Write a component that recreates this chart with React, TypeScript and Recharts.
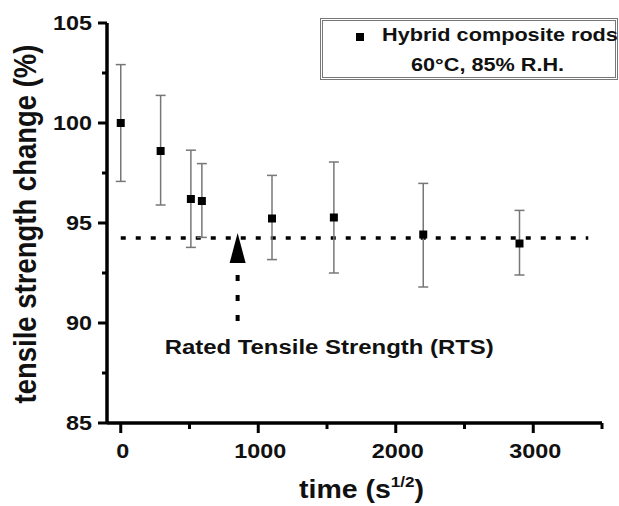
import {
  ScatterChart,
  Scatter,
  XAxis,
  YAxis,
  ZAxis,
  ErrorBar,
  ReferenceLine,
  ReferenceDot,
  Label,
} from "recharts";

// time in s^1/2, tensile strength retention in %
const times = [0, 290, 510, 590, 1100, 1550, 2200, 2900];
const strength = [100, 98.6, 96.2, 96.1, 95.22, 95.28, 94.42, 93.97];
const errLow = [2.92, 2.7, 2.42, 1.82, 2.05, 2.78, 2.62, 1.57];
const errHigh = [2.92, 2.78, 2.44, 1.87, 2.16, 2.77, 2.56, 1.66];

const xTicks = [0, 500, 1000, 1500, 2000, 2500, 3000, 3500];
const yTicks = [85, 87.5, 90, 92.5, 95, 97.5, 100, 102.5, 105];
const xMin = -100;
const xMax = 3500;
const yMin = 85;
const yMax = 105;

// rated tensile strength level and the arrow pointing at it
const rtsLevel = 94.25;
const rtsEnd = 3400;
const arrowTime = [850];
const arrowBase = [93];
const arrowTail = 90;
const rtsText = "Rated Tensile Strength (RTS)";
const rtsTextAt = { x: 1516, y: 88.83 };

const data = times.map((t, i) => ({
  t,
  v: strength[i],
  err: [errLow[i], errHigh[i]],
}));
const arrowData = arrowTime.map((t, i) => ({ t, v: arrowBase[i] }));

const FONT = "'Liberation Sans', Arial, sans-serif";
const SX = 1.14;

function Wide({ x, y, anchor = "start", size, rotate = false, children }: any) {
  return (
    <text
      transform={`translate(${x},${y}) scale(${SX},1)${rotate ? " rotate(-90)" : ""}`}
      textAnchor={anchor}
      fontSize={size}
      fontWeight="bold"
      fontFamily={FONT}
      fill="#111"
    >
      {children}
    </text>
  );
}

const XTick = ({ x, y, payload }: any) => {
  const major = payload.value % 1000 === 0;
  return (
    <g>
      {major ? (
        <Wide x={x + 2} y={y + 35} anchor="middle" size={20.5}>
          {payload.value}
        </Wide>
      ) : null}
      <line x1={x} x2={x} y1={y} y2={y + (major ? 10 : 6)} stroke="#000" strokeWidth={3} />
    </g>
  );
};

const YTick = ({ x, y, payload }: any) => {
  const major = payload.value % 5 === 0;
  return (
    <g>
      {major ? (
        <Wide x={x - 15} y={y + 7} anchor="end" size={20.5}>
          {payload.value}
        </Wide>
      ) : null}
      <line x1={x} x2={x - (major ? 9 : 5)} y1={y} y2={y} stroke="#000" strokeWidth={3} />
    </g>
  );
};

const Arrowhead = ({ cx, cy }: any) => (
  <polygon points={`${cx},${cy - 30} ${cx - 8},${cy} ${cx + 8},${cy}`} fill="#000" />
);

export default function App() {
  return (
    <div
      style={{
        position: "absolute",
        left: 0,
        top: 0,
        width: 619,
        height: 506,
        overflow: "hidden",
        background: "#fff",
      }}
    >
      <ScatterChart width={619} height={506} margin={{ top: 23, right: 17, bottom: 0, left: 0 }}>
        <XAxis
          type="number"
          dataKey="t"
          domain={[xMin, xMax]}
          ticks={xTicks}
          tick={<XTick />}
          tickSize={0}
          tickMargin={0}
          tickLine={false}
          axisLine={false}
          height={83}
          interval={0}
        >
          <Label
            content={() => (
              <Wide x={299} y={498} size={25}>
                time (s
                <tspan fontSize={15} dy={-11}>
                  1/2
                </tspan>
                <tspan dy={11}>)</tspan>
              </Wide>
            )}
          />
        </XAxis>
        <YAxis
          type="number"
          dataKey="v"
          domain={[yMin, yMax]}
          ticks={yTicks}
          tick={<YTick />}
          tickSize={0}
          tickMargin={0}
          tickLine={false}
          axisLine={false}
          width={107}
          interval={0}
          allowDataOverflow
        >
          <Label
            content={() => (
              <Wide x={36} y={224} size={27.5} anchor="middle" rotate>
                tensile strength change (%)
              </Wide>
            )}
          />
        </YAxis>
        <ZAxis range={[56, 56]} />
        <ReferenceLine
          segment={[
            { x: xMin, y: yMin },
            { x: xMax, y: yMin },
          ]}
          stroke="#000"
          strokeWidth={3.5}
          ifOverflow="visible"
        />
        <ReferenceLine
          segment={[
            { x: xMin, y: yMin },
            { x: xMin, y: yMax },
          ]}
          stroke="#000"
          strokeWidth={3.5}
          ifOverflow="visible"
        />
        <ReferenceLine
          segment={[
            { x: 0, y: rtsLevel },
            { x: rtsEnd, y: rtsLevel },
          ]}
          stroke="#000"
          strokeWidth={3.5}
          strokeDasharray="5 10"
        />
        <ReferenceLine
          segment={[
            { x: arrowTime[0], y: arrowBase[0] - 0.6 },
            { x: arrowTime[0], y: arrowTail },
          ]}
          stroke="#000"
          strokeWidth={4}
          strokeDasharray="6 14"
        />
        <ReferenceDot
          x={rtsTextAt.x}
          y={rtsTextAt.y}
          r={0}
          stroke="none"
          label={(p: any) => (
            <Wide x={p.viewBox.x + p.viewBox.width / 2} y={p.viewBox.y + 8} anchor="middle" size={21}>
              {rtsText}
            </Wide>
          )}
        />
        <Scatter data={data} shape="square" fill="#000" isAnimationActive={false}>
          <ErrorBar dataKey="err" direction="y" width={5} stroke="#777" strokeWidth={1.5} />
        </Scatter>
        <Scatter data={arrowData} shape={<Arrowhead />} isAnimationActive={false} />
      </ScatterChart>
      <div
        style={{
          position: "absolute",
          left: 320,
          top: 18,
          width: 292,
          height: 56,
          border: "3px double #777",
          fontFamily: FONT,
          fontWeight: "bold",
          color: "#111",
        }}
      >
        <div style={{ position: "absolute", left: 33, top: 12, width: 8, height: 8, background: "#000" }} />
        <div
          style={{
            position: "absolute",
            left: 59,
            top: 3,
            fontSize: 19,
            whiteSpace: "nowrap",
            transform: `scaleX(${SX})`,
            transformOrigin: "left",
          }}
        >
          Hybrid composite rods
        </div>
        <div
          style={{
            position: "absolute",
            left: 88,
            top: 33,
            fontSize: 19,
            whiteSpace: "nowrap",
            transform: `scaleX(${SX})`,
            transformOrigin: "left",
          }}
        >
          60°C, 85% R.H.
        </div>
      </div>
    </div>
  );
}
